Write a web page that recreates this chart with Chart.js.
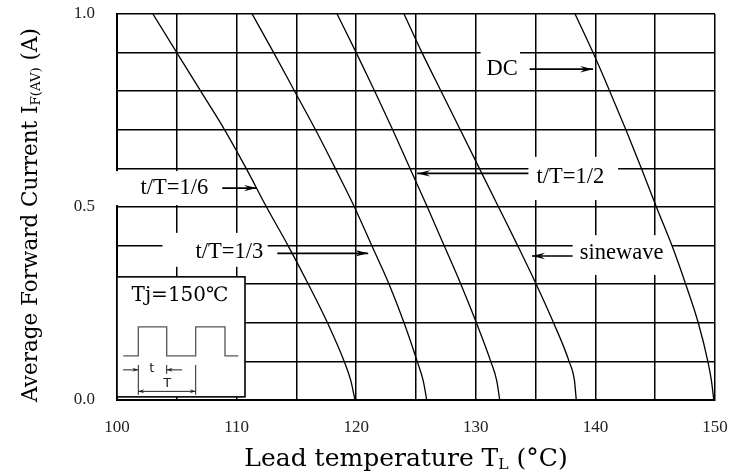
<!DOCTYPE html>
<html>
<head>
<meta charset="utf-8">
<script src="https://cdn.jsdelivr.net/npm/chart.js@4.4.1/dist/chart.umd.min.js"></script>
<style>
  html, body { margin: 0; padding: 0; background: #fff; }
  #wrap { width: 729px; height: 472px; }
</style>
</head>
<body>
<div id="wrap"><canvas id="chart" width="729" height="472"></canvas></div>
<script>
// current levels (A) at which each derating curve was read
const currentLevels = [1.0, 0.9, 0.8, 0.7, 0.6, 0.5, 0.4, 0.3, 0.2, 0.1, 0.05, 0.0];

// lead temperature (°C) of each curve at those levels
const tempDuty16 = [103.0, 105.0, 107.0, 109.0, 110.8, 112.5, 114.3, 116.0, 117.6, 119.0, 119.55, 119.9];
const tempDuty13 = [111.3, 113.1, 114.85, 116.6, 118.25, 119.85, 121.3, 122.75, 124.0, 125.1, 125.6, 125.9];
const tempDuty12 = [118.4, 120.0, 121.55, 123.05, 124.5, 125.95, 127.35, 128.75, 130.05, 131.25, 131.75, 132.0];
const tempSine   = [124.0, 125.5, 127.1, 128.7, 130.3, 131.9, 133.5, 135.05, 136.5, 137.8, 138.25, 138.4];
const tempDC     = [138.3, 139.8, 141.2, 142.55, 143.85, 145.1, 146.4, 147.55, 148.6, 149.4, 149.7, 149.9];

const xTickLabels = [100, 110, 120, 130, 140, 150];
const yTickLabels = [0.0, 0.5, 1.0];

const toPoints = temps => temps.map((t, i) => ({ x: t, y: currentLevels[i] }));

const curve = (label, temps) => ({
  label: label,
  data: toPoints(temps),
  showLine: true,
  borderColor: '#000',
  borderWidth: 1.3,
  pointRadius: 0,
  cubicInterpolationMode: 'monotone',
  fill: false
});

// callouts, anchored in data units: [text, box x0, box x1, box y0, box y1, text x, text y, arrow from x, arrow to x, arrow y]
const callouts = [
  ['t/T=1/6',  99.7, 108.4, 0.593, 0.505, 104.8, 0.549, 108.8, 111.7, 0.549],
  ['t/T=1/3', 103.8, 112.6, 0.433, 0.345, 109.4, 0.384, 113.4, 121.0, 0.380],
  ['t/T=1/2', 134.4, 141.9, 0.630, 0.518, 137.9, 0.578, 134.4, 125.1, 0.587],
  ['DC',      130.4, 133.7, 0.907, 0.808, 132.2, 0.857, 134.5, 139.8, 0.857],
  ['sinewave',138.1, 146.4, 0.427, 0.324, 142.2, 0.380, 138.1, 134.7, 0.373]
];

function arrowHead(ctx, x1, y1, x2, y2, len, half) {
  const d = Math.hypot(x2 - x1, y2 - y1);
  const ux = (x2 - x1) / d, uy = (y2 - y1) / d;
  const nx = -uy, ny = ux;
  ctx.beginPath();
  ctx.moveTo(x2, y2);
  ctx.lineTo(x2 - ux * len + nx * half, y2 - uy * len + ny * half);
  ctx.lineTo(x2 - ux * len * 0.65, y2 - uy * len * 0.65);
  ctx.lineTo(x2 - ux * len - nx * half, y2 - uy * len - ny * half);
  ctx.closePath();
  ctx.fill();
}

function arrow(ctx, x1, y1, x2, y2, len, half, width) {
  ctx.lineWidth = width;
  ctx.beginPath();
  ctx.moveTo(x1, y1);
  ctx.lineTo(x2, y2);
  ctx.stroke();
  arrowHead(ctx, x1, y1, x2, y2, len, half);
}

// text with a subscript part, laid out left to right and centred on x
function subText(ctx, parts, x, y, size, family) {
  let w = 0;
  parts.forEach(p => {
    ctx.font = (p.sub ? size * 0.62 : size) + 'px ' + family;
    p.w = ctx.measureText(p.t).width;
    w += p.w;
  });
  let cx = x - w / 2;
  parts.forEach(p => {
    ctx.font = (p.sub ? size * 0.62 : size) + 'px ' + family;
    ctx.fillText(p.t, cx, y + (p.sub ? size * 0.12 : 0));
    cx += p.w;
  });
}

const decorations = {
  id: 'decorations',
  beforeDatasetsDraw(chart) {
    const ctx = chart.ctx, xs = chart.scales.x, ys = chart.scales.y;
    ctx.save();
    ctx.fillStyle = '#fff';
    callouts.forEach(c => {
      const x0 = xs.getPixelForValue(c[1]), x1 = xs.getPixelForValue(c[2]);
      const y0 = ys.getPixelForValue(c[3]), y1 = ys.getPixelForValue(c[4]);
      ctx.fillRect(x0, y0, x1 - x0, y1 - y0);
    });
    ctx.restore();
  },
  afterDraw(chart) {
    const ctx = chart.ctx, xs = chart.scales.x, ys = chart.scales.y;
    const area = chart.chartArea;
    ctx.save();
    ctx.fillStyle = '#000';
    ctx.strokeStyle = '#000';

    // callout labels and arrows
    ctx.font = '22.5px "Liberation Serif"';
    ctx.textAlign = 'center';
    ctx.textBaseline = 'middle';
    callouts.forEach(c => {
      ctx.fillText(c[0], xs.getPixelForValue(c[5]), ys.getPixelForValue(c[6]));
      const ay = ys.getPixelForValue(c[9]);
      arrow(ctx, xs.getPixelForValue(c[7]), ay, xs.getPixelForValue(c[8]), ay, 13, 3.2, 1.7);
    });

    // inset with the pulse waveform
    const bx = area.left, by = ys.getPixelForValue(0.319);
    const bw = 128, bh = 120;
    ctx.fillStyle = '#fff';
    ctx.fillRect(bx, by, bw, bh);
    ctx.lineWidth = 1.6;
    ctx.strokeRect(bx, by, bw, bh);
    ctx.fillStyle = '#000';
    ctx.font = '20px "DejaVu Serif"';
    ctx.fillText('Tj=150\u2103', bx + 63, by + 19);

    ctx.strokeStyle = '#555';
    ctx.lineWidth = 1.3;
    ctx.beginPath();
    ctx.moveTo(bx + 6.3, by + 79);
    ctx.lineTo(bx + 21.3, by + 79);
    ctx.lineTo(bx + 21.3, by + 50);
    ctx.lineTo(bx + 49.7, by + 50);
    ctx.lineTo(bx + 49.7, by + 79);
    ctx.lineTo(bx + 78.7, by + 79);
    ctx.lineTo(bx + 78.7, by + 50);
    ctx.lineTo(bx + 108, by + 50);
    ctx.lineTo(bx + 108, by + 79);
    ctx.lineTo(bx + 121.3, by + 79);
    ctx.stroke();

    ctx.strokeStyle = '#222';
    ctx.fillStyle = '#222';
    ctx.lineWidth = 1;
    ctx.beginPath();
    ctx.moveTo(bx + 21.3, by + 88); ctx.lineTo(bx + 21.3, by + 118);
    ctx.moveTo(bx + 49.7, by + 88); ctx.lineTo(bx + 49.7, by + 97);
    ctx.moveTo(bx + 78.7, by + 88); ctx.lineTo(bx + 78.7, by + 118);
    ctx.stroke();
    arrow(ctx, bx + 6, by + 93, bx + 21.3, by + 93, 6, 2, 1);
    arrow(ctx, bx + 65, by + 93, bx + 49.7, by + 93, 6, 2, 1);
    arrow(ctx, bx + 50, by + 114.5, bx + 78.7, by + 114.5, 6, 2, 1);
    arrow(ctx, bx + 50, by + 114.5, bx + 21.3, by + 114.5, 6, 2, 1);
    ctx.font = '13px "DejaVu Sans"';
    ctx.fillText('t', bx + 34.7, by + 92);
    ctx.fillText('T', bx + 50.3, by + 107);

    // axis titles
    ctx.fillStyle = '#000';
    ctx.textAlign = 'left';
    ctx.textBaseline = 'alphabetic';
    subText(ctx, [{ t: 'Lead temperature T' }, { t: 'L', sub: true }, { t: ' (\u00b0C)' }],
      406, 466, 25, '"DejaVu Serif"');

    ctx.translate(37, 215);
    ctx.rotate(-Math.PI / 2);
    subText(ctx, [{ t: 'Average Forward Current I' }, { t: 'F(AV)', sub: true }, { t: ' (A)' }],
      0, 0, 21.5, '"DejaVu Serif"');
    ctx.restore();
  }
};

const tickFont = { family: '"Liberation Serif"', size: 17 };

new Chart(document.getElementById('chart').getContext('2d'), {
  type: 'scatter',
  data: {
    datasets: [
      curve('t/T=1/6', tempDuty16),
      curve('t/T=1/3', tempDuty13),
      curve('t/T=1/2', tempDuty12),
      curve('sinewave', tempSine),
      curve('DC', tempDC)
    ]
  },
  options: {
    responsive: false,
    animation: false,
    layout: { padding: { left: 0, top: 14, right: 14, bottom: 0 } },
    plugins: { legend: { display: false }, tooltip: { enabled: false } },
    scales: {
      x: {
        type: 'linear',
        min: 100,
        max: 150,
        afterFit: s => { s.height = 72; s.paddingLeft = 0; s.paddingRight = 0; },
        border: { display: true, color: '#000', width: 2 },
        grid: { color: '#000', lineWidth: 1.5, drawTicks: false },
        ticks: {
          stepSize: 5,
          autoSkip: false,
          maxRotation: 0,
          padding: 17,
          color: '#222',
          font: tickFont,
          callback: v => xTickLabels.includes(v) ? String(v) : ''
        }
      },
      y: {
        type: 'linear',
        min: 0,
        max: 1,
        afterFit: s => { s.width = 117; s.paddingTop = 0; s.paddingBottom = 0; },
        border: { display: true, color: '#000', width: 2 },
        grid: { color: '#000', lineWidth: 1.5, drawTicks: false },
        ticks: {
          stepSize: 0.1,
          autoSkip: false,
          padding: 22,
          color: '#222',
          font: tickFont,
          callback: v => yTickLabels.some(t => Math.abs(t - v) < 1e-6) ? v.toFixed(1) : ''
        }
      }
    }
  },
  plugins: [decorations]
});
</script>
</body>
</html>
